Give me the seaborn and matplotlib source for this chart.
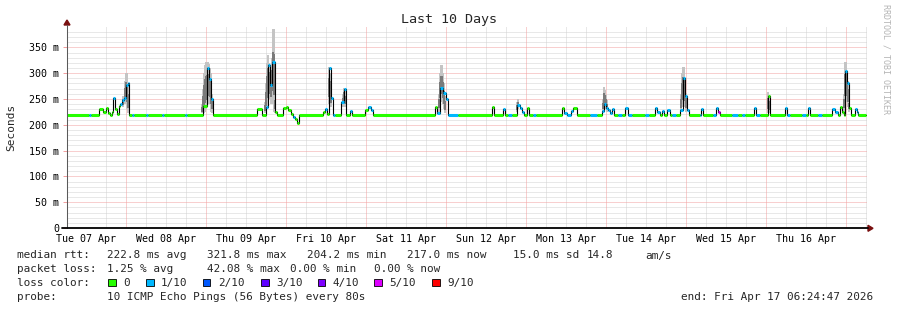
import numpy as np
import matplotlib
matplotlib.use("Agg")
import matplotlib.pyplot as plt
from matplotlib.patches import Rectangle, Polygon
from matplotlib.lines import Line2D
import seaborn as sns

# ---------------- data ----------------
# hours since start (Tue 07 Apr 06:24:47), median rtt (ms), loss class index
med_hours = [0.0, 6.6, 7.2, 9.6, 10.8, 11.7, 12.3, 12.9, 13.5, 13.8, 14.4, 15.0, 15.6, 15.9,
             16.5, 17.1, 17.7, 18.3, 18.6, 19.5, 20.1, 23.7, 24.3, 28.5, 29.1, 35.4, 36.0,
             40.8, 42.0, 42.6, 43.2, 43.8, 57.0, 58.5, 59.7, 60.3, 60.9, 61.5, 62.4, 63.0,
             64.8, 65.7, 66.3, 67.2, 67.8, 68.4, 69.0, 69.6, 76.8, 77.4, 78.0, 78.6, 79.2,
             79.8, 80.4, 82.2, 83.1, 83.7, 84.9, 85.5, 89.4, 90.3, 91.2, 91.8, 110.4, 111.0,
             111.9, 112.8, 113.7, 114.3, 117.3, 127.5, 128.1, 130.8, 131.4, 132.3, 133.5,
             135.0, 135.9, 136.5, 137.1, 138.0, 138.6, 139.8, 140.7, 148.5, 149.1, 150.0,
             151.2, 151.8, 153.0, 156.9, 159.0, 160.5, 161.1, 161.7, 162.3, 162.9, 163.5,
             164.1, 165.3, 166.5, 167.4, 168.3, 169.5, 173.4, 174.6, 176.4, 177.0, 177.9,
             178.5, 179.1, 180.0, 180.9, 181.5, 182.7, 183.9, 184.8, 185.4, 186.0, 186.6,
             189.9, 190.2, 190.8, 193.8, 194.7, 195.3, 195.9, 199.5, 201.3, 202.5, 203.4,
             206.1, 206.7, 207.9, 210.3, 210.9, 215.4, 216.0, 216.9, 220.5, 221.7, 222.3,
             222.9, 225.3, 226.5, 229.5, 230.4, 231.3, 231.9, 232.5, 233.1, 233.4, 234.0,
             234.6, 235.2, 236.4, 237.0, 237.3, 239.7]
med_ms = [218, 218, 218, 230, 225, 232, 222, 218, 224, 251, 230, 220, 236, 240,
          248, 252, 277, 280, 218, 218, 218, 218, 218, 218, 218, 218, 218,
          236, 310, 288, 250, 218, 230, 218, 235, 316, 277, 322, 225, 218,
          232, 234, 228, 220, 216, 212, 204, 218, 225, 230, 220, 310, 252,
          218, 218, 245, 270, 218, 226, 218, 228, 235, 228, 218, 235, 222,
          272, 262, 250, 218, 218, 235, 218, 230, 218, 218, 218,
          238, 232, 225, 218, 232, 218, 218, 218, 233, 222, 218,
          226, 233, 218, 218, 218, 226, 240, 232, 228, 222, 230,
          218, 218, 218, 232, 218, 218, 218, 218, 232, 225, 218,
          226, 218, 228, 218, 218, 218, 228, 290, 255, 228, 218,
          218, 230, 218, 218, 232, 225, 218, 218, 218, 218, 218,
          232, 218, 218, 255, 218, 232, 218, 218, 218, 218, 232,
          218, 218, 218, 230, 225, 218, 235, 225, 218, 305, 280,
          232, 218, 230, 225, 218, 218]
med_loss = [0, 1, 0, 0, 0, 0, 0, 0, 0, 1, 0, 0, 0, 1,
            1, 1, 1, 1, 0, 1, 0, 1, 0, 1, 0, 1, 0,
            0, 1, 1, 1, 0, 0, 0, 1, 1, 1, 1, 0, 0,
            0, 0, 0, 0, 1, 0, 0, 0, 0, 1, 0, 1, 1,
            1, 0, 1, 1, 0, 1, 0, 0, 1, 1, 0, 0, 1,
            1, 1, 1, 1, 0, 0, 0, 1, 0, 1, 0,
            1, 1, 1, 0, 0, 0, 1, 0, 0, 1, 1,
            1, 0, 0, 1, 0, 1, 1, 1, 1, 1, 1,
            0, 1, 0, 1, 1, 0, 1, 0, 1, 1, 0,
            1, 0, 1, 0, 1, 0, 1, 1, 1, 1, 0,
            1, 1, 0, 1, 1, 5, 0, 1, 0, 1, 0,
            1, 1, 0, 0, 0, 1, 1, 0, 1, 0, 1,
            0, 1, 0, 1, 1, 0, 0, 0, 0, 1, 1,
            0, 0, 1, 1, 0, 0]

# smoke (min / max of the pings) around the spikes
smoke_hours = [16.8, 17.4, 17.7, 18.0, 18.3,
               40.5, 40.8, 41.1, 41.4, 41.7, 42.0, 42.3, 42.6, 42.9, 43.2, 43.5,
               59.4, 59.7, 60.0, 60.3, 60.6, 60.9, 61.2, 61.5, 61.8, 62.1, 62.4,
               78.6, 78.9, 79.2,
               82.8, 83.1, 83.4,
               111.6, 111.9, 112.2, 112.5, 112.8, 113.1, 113.4,
               135.0, 135.3,
               160.8, 161.1, 161.4, 161.7, 162.0,
               184.2, 184.5, 184.8, 185.1, 185.4, 185.7,
               210.3, 210.6,
               233.1, 233.4, 233.7, 234.0, 234.3, 234.6]
smoke_lo = [235, 240, 240, 230, 222,
            222, 222, 222, 225, 230, 235, 240, 245, 240, 225, 222,
            222, 225, 235, 250, 260, 250, 240, 250, 240, 225, 222,
            240, 250, 235,
            235, 245, 235,
            225, 240, 245, 245, 240, 230, 222,
            225, 230,
            225, 232, 235, 230, 225,
            225, 235, 245, 245, 235, 225,
            222, 222,
            225, 240, 250, 245, 235, 225]
smoke_hi = [255, 285, 300, 300, 275,
            240, 270, 300, 315, 322, 322, 322, 318, 310, 300, 260,
            245, 280, 320, 335, 320, 300, 310, 330, 385, 385, 260,
            312, 300, 270,
            260, 272, 265,
            260, 300, 315, 315, 300, 280, 255,
            245, 250,
            250, 274, 268, 258, 248,
            260, 300, 312, 312, 290, 262,
            264, 255,
            260, 322, 322, 300, 285, 250]

loss_labels = ['0', '1/10', '2/10', '3/10', '4/10', '5/10', '9/10']
loss_colors = ['#26ff00', '#00b8ff', '#0059ff', '#5e00ff', '#7e00ff', '#dd00ff', '#ff0000']

day_labels = ['Tue 07 Apr', 'Wed 08 Apr', 'Thu 09 Apr', 'Fri 10 Apr', 'Sat 11 Apr',
              'Sun 12 Apr', 'Mon 13 Apr', 'Tue 14 Apr', 'Wed 15 Apr', 'Thu 16 Apr']
y_ticks = [0, 50, 100, 150, 200, 250, 300, 350]
y_labels = ['0', '50 m', '100 m', '150 m', '200 m', '250 m', '300 m', '350 m']

stats_rtt = ['median rtt:', '222.8 ms avg', '321.8 ms max', '204.2 ms min',
             '217.0 ms now', '15.0 ms sd', '14.8', 'am/s']
stats_loss = ['packet loss:', '1.25 % avg', '42.08 % max', '0.00 % min', '0.00 % now']
probe_text = '10 ICMP Echo Pings (56 Bytes) every 80s'
end_text = 'end: Fri Apr 17 06:24:47 2026'
title = 'Last 10 Days'

# ---------------- style ----------------
sns.set_theme(style='white')
plt.rcParams['font.family'] = ['DejaVu Sans Mono']

W, H = 897, 310
fig = plt.figure(figsize=(W / 100, H / 100), dpi=100)
fig.patch.set_facecolor('white')

def fx(px):
    return px / W

def fy(py):
    return 1 - py / H

x0, x1, y0, y1 = 67, 867, 228, 26.7
ax = fig.add_axes([fx(x0), fy(y0), (x1 - x0) / W, (y0 - y1) / H])
ax.set_facecolor('white')
ax.set_xlim(0, 240)
ax.set_ylim(0, 390)
for s in ax.spines.values():
    s.set_visible(False)

first_midnight = 17.587
DOT = (0, (1, 1))
MAJ = '#f2a0a0'
MIN = '#d2d2d2'
# grid
for v in range(10, 390, 10):
    if v % 50:
        ax.axhline(v, color=MIN, lw=0.72, ls=DOT, zorder=0)
for v in y_ticks[1:]:
    ax.axhline(v, color=MAJ, lw=0.72, ls=DOT, zorder=0.5)
for k in range(-1, 41):
    t = first_midnight + 6 * k
    if 0 < t < 240:
        if k % 4 == 0:
            ax.axvline(t, color=MAJ, lw=0.72, ls=DOT, zorder=0.5)
        else:
            ax.axvline(t, color=MIN, lw=0.72, ls=DOT, zorder=0)

# smoke
lo = np.array(smoke_lo, float)
hi = np.array(smoke_hi, float)
ax.bar(smoke_hours, hi - lo, bottom=lo, width=0.33, color='#c4c4c4', lw=0, zorder=1)
ax.bar(smoke_hours, (hi - lo) * 0.5, bottom=lo + (hi - lo) * 0.2, width=0.33,
       color='#7a7a7a', lw=0, zorder=1.1)

# median line
sns.lineplot(x=med_hours, y=med_ms, drawstyle='steps-post', color='black', lw=0.8,
             ax=ax, estimator=None, sort=False, legend=False, zorder=2)
ax.hlines(med_ms[:-1], med_hours[:-1], med_hours[1:],
          colors=[loss_colors[i] for i in med_loss[:-1]], lw=2.2, zorder=3)

# ticks
ax.set_yticks(y_ticks)
ax.set_yticklabels(y_labels)
ax.set_xticks([first_midnight - 12 + 24 * k for k in range(10)])
ax.set_xticklabels(day_labels)
ax.tick_params(axis='y', length=3.2, width=0.72, color=MAJ, pad=2.4, labelsize=7.2,
               labelcolor='black', left=True)
ax.tick_params(axis='x', length=0, pad=4.0, labelsize=7.2, labelcolor='black')
ax.set_xlabel('')
ax.set_ylabel('')

# axes lines and arrows
fig.add_artist(Line2D([fx(67), fx(67)], [fy(228), fy(25)], color='#5a5a5a', lw=0.75,
                      transform=fig.transFigure))
fig.add_artist(Line2D([fx(62), fx(868)], [fy(228.3), fy(228.3)], color='black', lw=1.3,
                      transform=fig.transFigure))
fig.add_artist(Polygon([[fx(67), fy(20)], [fx(64), fy(25)], [fx(70), fy(25)]], closed=True,
                       color='#7a1010', transform=fig.transFigure))
fig.add_artist(Polygon([[fx(873), fy(228.3)], [fx(868), fy(225.3)], [fx(868), fy(231.3)]],
                       closed=True, color='#7a1010', transform=fig.transFigure))

# texts
fs = 7.9
fig.text(fx(448.5), fy(19), title, ha='center', va='center', fontsize=9.6)
fig.text(fx(11), fy(127), 'Seconds', rotation=90, ha='center', va='center', fontsize=8)
fig.text(fx(886), fy(59), 'RRDTOOL / TOBI OETIKER', rotation=270, ha='center', va='center',
         fontsize=6, color='#b4b4b4')

rtt_x = [16.7, 107.3, 207.3, 306.7, 407.3, 513, 587, 645]
for s, xp in zip(stats_rtt, rtt_x):
    fig.text(fx(xp), fy(258.5), s, ha='left', va='baseline', fontsize=fs)
loss_x = [16.7, 107.3, 207.3, 290.0, 374.0]
for s, xp in zip(stats_loss, loss_x):
    fig.text(fx(xp), fy(272.3), s, ha='left', va='baseline', fontsize=fs)
fig.text(fx(16.7), fy(286.2), 'loss color:', ha='left', va='baseline', fontsize=fs)
box_x = [108.3, 146.0, 202.7, 261.0, 317.7, 374.3, 432.3]
for lab, col, bx in zip(loss_labels, loss_colors, box_x):
    fig.add_artist(Rectangle((fx(bx), fy(286)), 7.6 / W, 7.2 / H, facecolor=col,
                             edgecolor='black', lw=0.6, transform=fig.transFigure))
    fig.text(fx(bx + 15), fy(286.2), lab, ha='left', va='baseline', fontsize=fs)
fig.text(fx(16.7), fy(300), 'probe:', ha='left', va='baseline', fontsize=fs)
fig.text(fx(107.3), fy(300), probe_text, ha='left', va='baseline', fontsize=fs)
fig.text(fx(873), fy(300), end_text, ha='right', va='baseline', fontsize=fs)

fig.savefig('out.png', dpi=100, facecolor='white')
